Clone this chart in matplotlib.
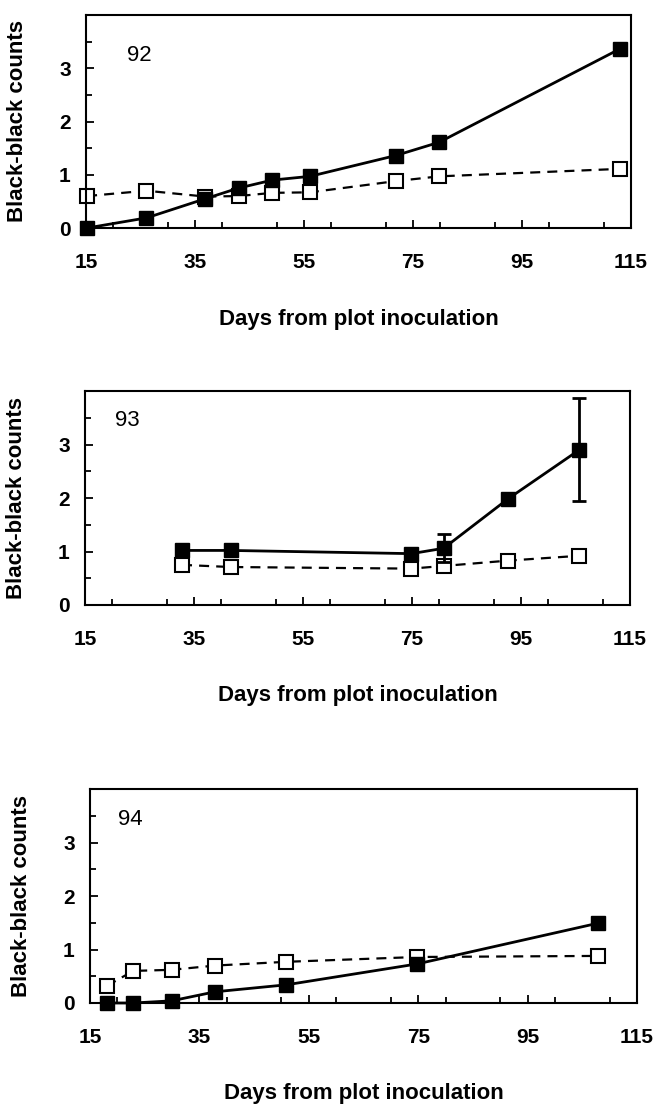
import matplotlib
matplotlib.use("Agg")
import matplotlib.pyplot as plt
from matplotlib.ticker import MultipleLocator

plt.rcParams['font.family'] = ['Liberation Sans', 'DejaVu Sans']
plt.rcParams['font.weight'] = 'bold'

# panel 92
days_92 = [15.2, 26.1, 36.9, 43.0, 49.2, 56.1, 71.8, 79.8, 112.9]
filled_92 = [0.0, 0.19, 0.55, 0.75, 0.9, 0.97, 1.36, 1.61, 3.36]
open_92 = [0.6, 0.7, 0.59, 0.6, 0.66, 0.67, 0.88, 0.97, 1.11]

# panel 93
days_93 = [32.8, 41.7, 74.9, 80.8, 92.7, 105.7]
filled_93 = [1.02, 1.02, 0.96, 1.06, 1.99, 2.9]
filled_err_93 = [0, 0, 0, 0.26, 0, 0.96]
open_93 = [0.75, 0.71, 0.68, 0.73, 0.83, 0.92]

# panel 94
days_94 = [18.1, 22.9, 29.9, 37.9, 50.9, 74.8, 107.8]
filled_94 = [0.0, 0.0, 0.04, 0.21, 0.34, 0.73, 1.49]
open_94 = [0.32, 0.6, 0.62, 0.7, 0.77, 0.86, 0.88]

panels = [
    ("92", days_92, filled_92, None, open_92),
    ("93", days_93, filled_93, filled_err_93, open_93),
    ("94", days_94, filled_94, None, open_94),
]

x_ticks = [15, 35, 55, 75, 95, 115]
y_ticks = [0, 1, 2, 3]

W, H = 656, 1104
# axes boxes in pixels: left, top, right, bottom
boxes = [(86, 15, 631, 228), (85, 391, 630, 605), (90, 789, 637, 1003)]
# centre of the season label, axes fraction
label_pos = [(0.097, 0.812), (0.077, 0.86), (0.074, 0.857)]

fig = plt.figure(figsize=(W / 100, H / 100), dpi=100)

for (name, days, filled, err, opn), (l, t, r, b), (tx, ty) in zip(panels, boxes, label_pos):
    ax = fig.add_axes([l / W, 1 - b / H, (r - l) / W, (b - t) / H])

    ax.plot(days, opn, color='black', linestyle=(0, (4.5, 3.2)), linewidth=1.6,
            marker='s', markersize=9.5, markerfacecolor='white',
            markeredgecolor='black', markeredgewidth=1.5, zorder=2, clip_on=False)
    ax.plot(days, filled, color='black', linestyle='-', linewidth=2.0,
            marker='s', markersize=10.5, markerfacecolor='black',
            markeredgecolor='black', zorder=3, clip_on=False)
    if err is not None:
        ax.errorbar(days, filled, yerr=err, fmt='none', ecolor='black',
                    elinewidth=2.0, capsize=4.7, capthick=2.0, zorder=4)

    ax.set_xlim(15, 115)
    ax.set_ylim(0, 4)
    ax.set_xticks(x_ticks)
    ax.set_yticks(y_ticks)
    ax.xaxis.set_minor_locator(MultipleLocator(10))
    ax.yaxis.set_minor_locator(MultipleLocator(0.5))
    ax.tick_params(which='both', direction='in', width=1.3)
    ax.tick_params(which='major', length=6)
    ax.tick_params(which='minor', length=4.5)
    ax.tick_params(axis='x', labelsize=15, pad=18)
    ax.tick_params(axis='y', labelsize=15, pad=11)
    for sp in ax.spines.values():
        sp.set_linewidth(1.5)

    ax.text(tx, ty, name, transform=ax.transAxes, fontsize=16,
            fontweight='normal', ha='center', va='center')

    ax.set_ylabel("Black-black counts", fontsize=16, fontweight='bold')
    ax.yaxis.set_label_coords(-68 / (r - l), 0.5)
    ax.yaxis.label.set_va('center')
    ax.set_xlabel("Days from plot inoculation", fontsize=16, fontweight='bold')
    ax.xaxis.set_label_coords(0.5, -91 / (b - t))
    ax.xaxis.label.set_va('center')

fig.savefig("out.png", dpi=100)
